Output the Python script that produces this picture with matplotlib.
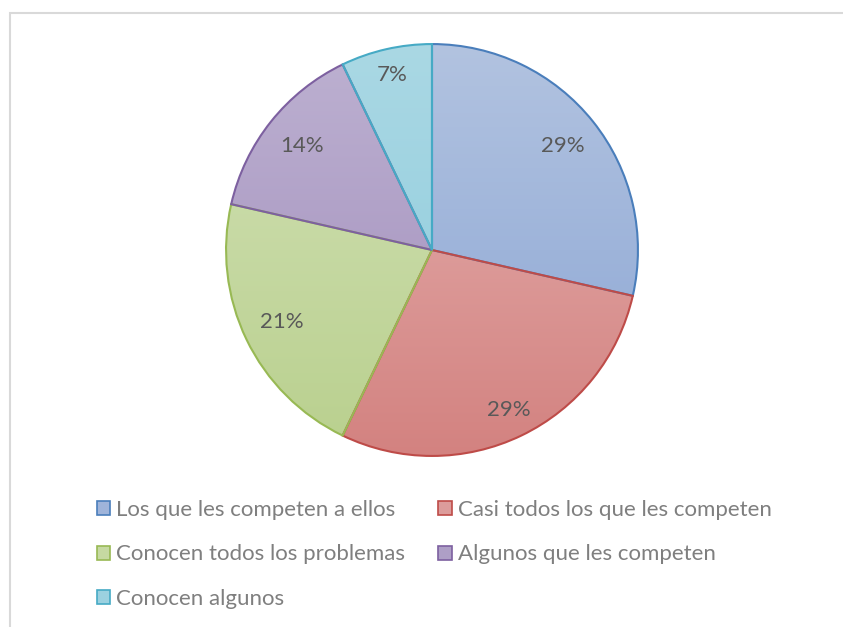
import numpy as np
import matplotlib
matplotlib.use("Agg")
import matplotlib.pyplot as plt
from matplotlib.colors import LinearSegmentedColormap
from matplotlib.patches import Patch, Rectangle

# data
labels = ["Los que les competen a ellos", "Casi todos los que les competen",
          "Conocen todos los problemas", "Algunos que les competen", "Conocen algunos"]
values = [4, 4, 3, 2, 1]
pct_labels = ["29%", "29%", "21%", "14%", "7%"]

# styling (gradient top -> bottom, edge)
light = ["#b2c3e0", "#e6b3b2", "#d2e1b6", "#bdb1d1", "#aad8e4"]
dark = ["#8aa5d4", "#d38280", "#b9d08e", "#a08cbb", "#8ccbdc"]
edges = ["#4a7ebb", "#be4b48", "#98b954", "#7d60a0", "#46aac5"]
mid = ["#9fb4da", "#dc9c9b", "#c6d9a2", "#ae9fc6", "#9bd1e0"]
label_dist = [0.81, 0.86, 0.81, 0.81, 0.87]

plt.rcParams['font.family'] = ['Lato', 'DejaVu Sans']

fig = plt.figure(figsize=(8.43, 6.27), dpi=100)

# outer chart frame (light gray), runs off the right and bottom edges
fig.patches.append(Rectangle((10 / 843, -0.05), 1.2, 1 - 13 / 627 + 0.05,
                             transform=fig.transFigure, fill=False,
                             edgecolor="#d9d9d9", linewidth=1.5))

cx, cy, r = 432 / 843, 1 - 250 / 627, 208
ax = fig.add_axes([cx - r / 843, cy - r / 627, 2 * r / 843, 2 * r / 627])

wedges, texts = ax.pie(values, startangle=90, counterclock=False, radius=1,
                       labels=pct_labels, labeldistance=1.0,
                       wedgeprops=dict(linewidth=1.5),
                       textprops=dict(color="#595959", fontsize=16))

grad = np.linspace(0, 1, 256).reshape(-1, 1)
for w, lc, dc, ec in zip(wedges, light, dark, edges):
    w.set_facecolor("none")
    w.set_edgecolor(ec)
    w.set_zorder(3)
    cmap = LinearSegmentedColormap.from_list("g", [lc, dc])
    im = ax.imshow(grad, cmap=cmap, extent=[-1, 1, -1, 1], origin="upper",
                   aspect="auto", zorder=2)
    im.set_clip_path(w)
for t, d in zip(texts, label_dist):
    x, y = t.get_position()
    t.set_position((x * d, y * d))
    t.set_zorder(4)
    t.set_ha("center")
    t.set_va("center")

ax.set_xlim(-1.01, 1.01)
ax.set_ylim(-1.01, 1.01)
ax.axis("off")

handles = [Patch(facecolor=m, edgecolor=e, linewidth=1.2) for m, e in zip(mid, edges)]
order = [0, 2, 4, 1, 3]
leg = fig.legend([handles[i] for i in order], [labels[i] for i in order],
                 ncol=2, loc="upper left", bbox_to_anchor=(97 / 843, 1 - 500 / 627),
                 frameon=False, fontsize=16, labelcolor="#7f7f7f",
                 handlelength=0.6, handleheight=0.6, handletextpad=0.27,
                 columnspacing=1.48, labelspacing=1.1, borderaxespad=0,
                 borderpad=0)

fig.savefig("out.png", dpi=100)
